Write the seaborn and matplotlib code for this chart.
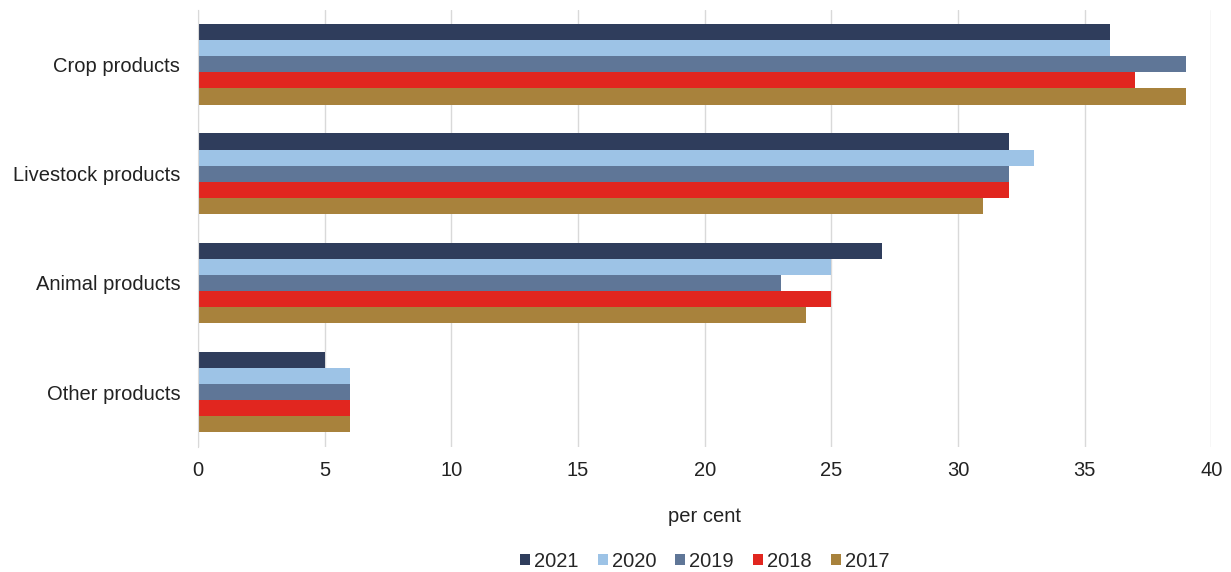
import pandas as pd
import seaborn as sns
import matplotlib.pyplot as plt

# data
categories = ["Crop products", "Livestock products", "Animal products", "Other products"]
years = ["2021", "2020", "2019", "2018", "2017"]
v2021 = [36, 32, 27, 5]
v2020 = [36, 33, 25, 6]
v2019 = [39, 32, 23, 6]
v2018 = [37, 32, 25, 6]
v2017 = [39, 31, 24, 6]
colors = ["#2F3D5C", "#9DC3E6", "#5F7697", "#E1261F", "#A8823C"]


def main():
    sns.set_style("white")
    plt.rcParams["font.family"] = ["Liberation Sans", "DejaVu Sans"]

    values = {"2021": v2021, "2020": v2020, "2019": v2019, "2018": v2018, "2017": v2017}
    rows = []
    for y in years:
        for c, v in zip(categories, values[y]):
            rows.append({"category": c, "year": y, "value": v})
    df = pd.DataFrame(rows)

    fig = plt.figure(figsize=(12.31, 5.72), dpi=100)
    ax = fig.add_axes([0.161, 0.219, 0.823, 0.764])
    sns.barplot(data=df, y="category", x="value", hue="year", hue_order=years,
                order=categories, palette=colors, width=0.735, orient="h",
                saturation=1, ax=ax, linewidth=0)

    ax.set_xlim(0, 40)
    ax.set_xticks(range(0, 41, 5))
    ax.set_ylim(3.5, -0.5)
    ax.grid(axis="x", color="#D9D9D9", linewidth=1)
    ax.set_axisbelow(True)
    for s in ["top", "right", "bottom"]:
        ax.spines[s].set_visible(False)
    ax.spines["left"].set_color("#D9D9D9")
    ax.tick_params(axis="both", length=0, labelsize=14.5, colors="#222222")
    ax.tick_params(axis="x", pad=10)
    ax.tick_params(axis="y", pad=13)
    ax.set_ylabel("")
    ax.set_xlabel("per cent", fontsize=14.5, color="#222222", labelpad=20)

    ax.legend(loc="center", bbox_to_anchor=(0.5, -0.262), ncol=5, frameon=False,
              fontsize=14.5, handlelength=0.5, handleheight=0.5, handletextpad=0.2,
              columnspacing=0.95)

    fig.savefig("out.png", dpi=100)


if __name__ == "__main__":
    main()
